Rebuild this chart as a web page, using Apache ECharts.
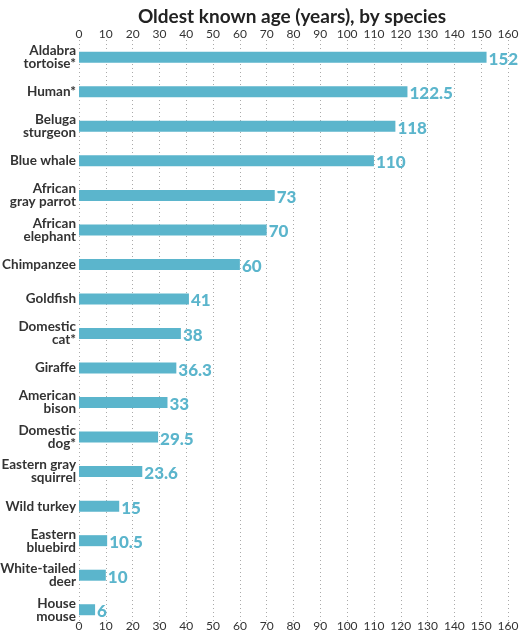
<!DOCTYPE html>
<html>
<head>
<meta charset="utf-8">
<script src="https://cdn.jsdelivr.net/npm/echarts@6/dist/echarts.min.js"></script>
<style>
  html, body { margin: 0; padding: 0; background: #fff; }
  #chart { width: 526px; height: 640px; }
</style>
</head>
<body>
<div id="chart"></div>
<script>
// species, top to bottom
const species = [
  'Aldabra\ntortoise*', 'Human*', 'Beluga\nsturgeon', 'Blue whale',
  'African\ngray parrot', 'African\nelephant', 'Chimpanzee', 'Goldfish',
  'Domestic\ncat*', 'Giraffe', 'American\nbison', 'Domestic\ndog*',
  'Eastern gray\nsquirrel', 'Wild turkey', 'Eastern\nbluebird',
  'White-tailed\ndeer', 'House\nmouse'
]
const ages = [152, 122.5, 118, 110, 73, 70, 60, 41, 38, 36.3, 33, 29.5, 23.6, 15, 10.5, 10, 6]

const axisMin = 0
const axisMax = 160
const axisStep = 10

const barColor = '#5bb5cc'
const font = 'Lato, "Open Sans", sans-serif'

const chart = echarts.init(document.getElementById('chart'))

const xAxisBase = {
  type: 'value',
  min: axisMin,
  max: axisMax,
  interval: axisStep,
  axisLine: { show: false },
  axisTick: { show: false },
  axisLabel: { color: '#333', fontFamily: font, fontSize: 12 },
  splitLine: { show: false }
}

chart.setOption({
  animation: false,
  title: {
    text: 'Oldest known age (years), by species',
    left: 287,
    textAlign: 'center',
    top: 2,
    textStyle: { fontFamily: font, fontWeight: 'bold', fontSize: 19, color: '#222' }
  },
  grid: { left: 79, right: 18, top: 40, bottom: 13, containLabel: false, outerBoundsMode: 'none' },
  xAxis: [
    Object.assign({}, xAxisBase, {
      position: 'top',
      axisLabel: Object.assign({}, xAxisBase.axisLabel, { margin: 0 }),
      splitLine: { show: true, lineStyle: { color: '#aaa', type: [1, 3], width: 1 } }
    }),
    Object.assign({}, xAxisBase, {
      position: 'bottom',
      axisLabel: Object.assign({}, xAxisBase.axisLabel, { margin: -7 })
    })
  ],
  yAxis: {
    type: 'category',
    inverse: true,
    data: species,
    axisLine: { show: false },
    axisTick: { show: false },
    axisLabel: {
      color: '#333',
      fontFamily: font,
      fontWeight: 'bold',
      fontSize: 13.5,
      lineHeight: 13,
      margin: 3
    }
  },
  series: [
    {
      type: 'bar',
      xAxisIndex: 0,
      data: ages,
      barWidth: 11,
      itemStyle: { color: barColor },
      label: {
        show: true,
        position: 'right',
        distance: 2,
        color: barColor,
        fontFamily: font,
        fontWeight: 900,
        fontSize: 17,
        offset: [0, 2]
      }
    }
  ]
})
</script>
</body>
</html>
